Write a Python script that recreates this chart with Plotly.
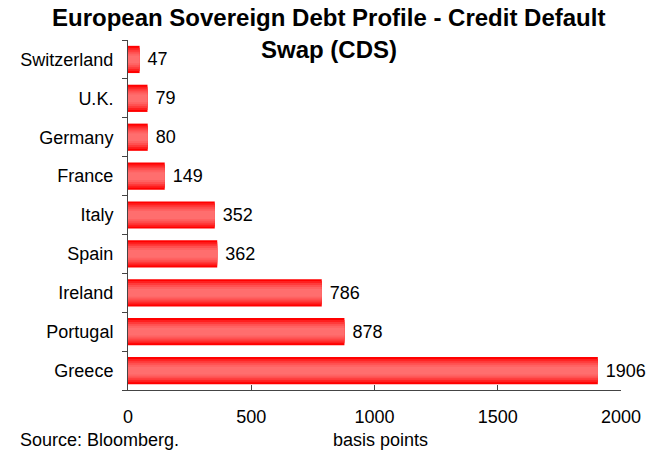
import plotly.graph_objects as go

countries = ["Greece", "Portugal", "Ireland", "Spain", "Italy", "France", "Germany", "U.K.", "Switzerland"]
cds_bp = [1906, 878, 786, 362, 352, 149, 80, 79, 47]
x_ticks = [0, 500, 1000, 1500, 2000]

FONT = "Liberation Sans, Arial"

# Layered bars of shrinking width fake a cylindrical red shading
shades = ["#ff0000", "#ff1f1f", "#ff3a3a", "#ff5050", "#ff6262", "#ff6e6e"]
widths = [0.70, 0.60, 0.50, 0.40, 0.30, 0.20]

fig = go.Figure()
for i, (c, w) in enumerate(zip(shades, widths)):
    fig.add_trace(go.Bar(
        x=cds_bp, y=countries, orientation="h",
        width=w, marker=dict(color=c, line=dict(width=0)),
        text=[" " + str(v) for v in cds_bp] if i == 0 else None,
        textposition="outside" if i == 0 else "none",
        textfont=dict(family=FONT, size=18, color="black"),
        cliponaxis=False, hoverinfo="skip", showlegend=False,
    ))

fig.update_layout(
    barmode="overlay",
    width=652, height=455,
    margin=dict(l=128, r=31, t=40, b=65),
    paper_bgcolor="white", plot_bgcolor="white",
    font=dict(family=FONT, size=18, color="black"),
    xaxis=dict(
        range=[0, 2000], tickvals=x_ticks, ticks="inside", ticklen=5,
        tickcolor="#444", showline=True, linecolor="#444", linewidth=1,
        showgrid=False, zeroline=False, ticklabelstandoff=10,
        tickfont=dict(size=18),
    ),
    yaxis=dict(
        type="category", categoryorder="array", categoryarray=countries,
        range=[-0.5, 8.5], ticks="outside", ticklen=5, tickson="boundaries",
        tickcolor="#444", showline=True, linecolor="#444", linewidth=1,
        showgrid=False, tickfont=dict(size=18), ticklabelstandoff=10,
    ),
    annotations=[
        dict(text="<b>European Sovereign Debt Profile - Credit Default</b>",
             xref="paper", yref="paper", x=0.406, y=1.064,
             xanchor="center", yanchor="middle", showarrow=False,
             font=dict(size=24)),
        dict(text="<b>Swap (CDS)</b>",
             xref="paper", yref="paper", x=0.408, y=0.974,
             xanchor="center", yanchor="middle", showarrow=False,
             font=dict(size=24)),
        dict(text="Source: Bloomberg.", xref="paper", yref="paper",
             x=-0.223, y=-0.143, xanchor="left", yanchor="middle",
             showarrow=False, font=dict(size=18)),
        dict(text="basis points", xref="paper", yref="paper",
             x=0.513, y=-0.143, xanchor="center", yanchor="middle",
             showarrow=False, font=dict(size=18)),
    ],
)

fig.write_html("out.html")
